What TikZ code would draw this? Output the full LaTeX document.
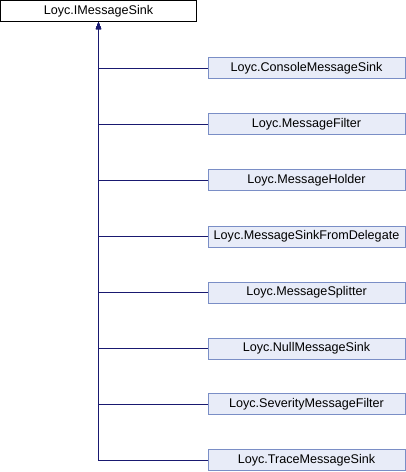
\documentclass[tikz,border=0pt]{standalone}
\usepackage{fontspec}
\setmainfont{Liberation Sans}
\usetikzlibrary{arrows.meta}
\definecolor{edgeblue}{RGB}{25,25,112}
\definecolor{boxline}{RGB}{122,142,198}
\definecolor{boxfill}{RGB}{232,236,248}
\tikzset{
	basebox/.style={draw=black,fill=white,line width=1pt,minimum width=196pt,minimum height=21pt,inner sep=0pt,font=\fontsize{12.6}{14}\selectfont},
	subbox/.style={draw=boxline,fill=boxfill,line width=1pt,minimum width=197pt,minimum height=21pt,inner sep=0pt,font=\fontsize{12.6}{14}\selectfont},
	inherit/.style={draw=edgeblue,line width=1pt,{Triangle[length=7pt,width=5pt]}-}
}
\begin{document}
\begin{tikzpicture}[x=1pt,y=-1pt]
		
		\useasboundingbox (0,0) rectangle (406,472);
		
		\node[basebox] (sink) at (98.5,11) {Loyc.IMessageSink};
		
		\node[subbox] (console) at (306.5,68) {Loyc.ConsoleMessageSink};
		\node[subbox] (filter) at (306.5,124) {Loyc.MessageFilter};
		\node[subbox] (holder) at (306.5,180) {Loyc.MessageHolder};
		\node[subbox] (delegate) at (306.5,236.5) {Loyc.MessageSinkFromDelegate};
		\node[subbox] (splitter) at (306.5,292.5) {Loyc.MessageSplitter};
		\node[subbox] (null) at (306.5,348.5) {Loyc.NullMessageSink};
		\node[subbox] (severity) at (306.5,404) {Loyc.SeverityMessageFilter};
		\node[subbox] (trace) at (306.5,460) {Loyc.TraceMessageSink};
		
		
		\draw[inherit] (sink.south) |- (console.west);
		\draw[inherit] (sink.south) |- (filter.west);
		\draw[inherit] (sink.south) |- (holder.west);
		\draw[inherit] (sink.south) |- (delegate.west);
		\draw[inherit] (sink.south) |- (splitter.west);
		\draw[inherit] (sink.south) |- (null.west);
		\draw[inherit] (sink.south) |- (severity.west);
		\draw[inherit] (sink.south) |- (trace.west);
		
		\end{tikzpicture}
\end{document}
